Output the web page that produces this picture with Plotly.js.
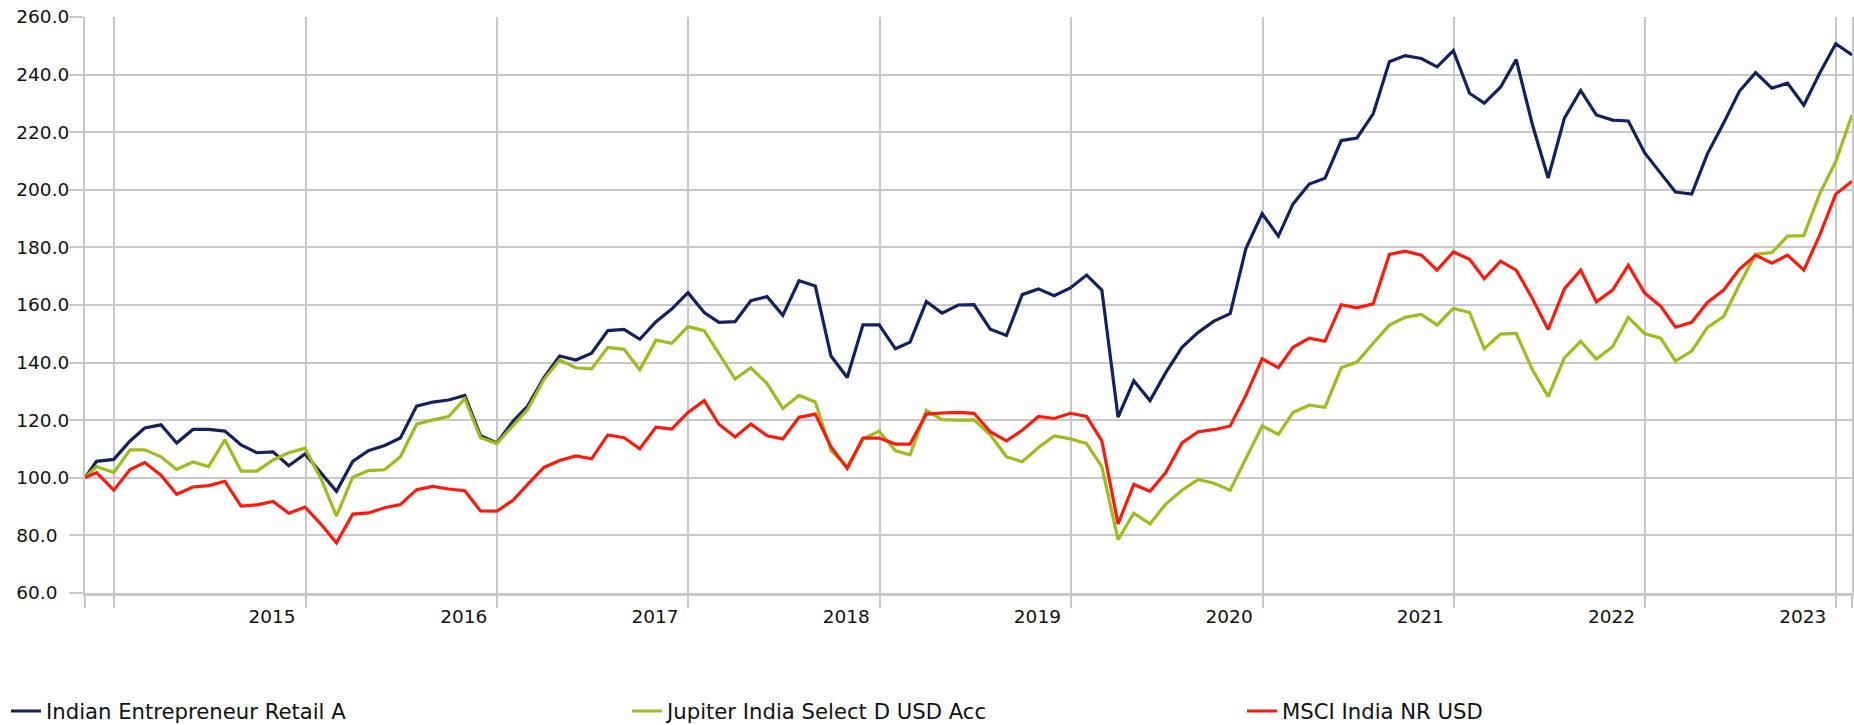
<!DOCTYPE html>
<html>
<head>
<meta charset="utf-8">
<script src="https://cdn.plot.ly/plotly-3.0.1.min.js"></script>
<style>html,body{margin:0;padding:0;background:#fff;}#chart{width:1854px;height:725px;}</style>
</head>
<body>
<div id="chart"></div>
<script>
// Dates (month-end observations)
const dates = [
  "2014-11-06","2014-11-28","2014-12-31",
  "2015-01-31","2015-02-28","2015-03-31","2015-04-30","2015-05-31","2015-06-30","2015-07-31","2015-08-31","2015-09-30","2015-10-31","2015-11-30","2015-12-31",
  "2016-01-31","2016-02-29","2016-03-31","2016-04-30","2016-05-31","2016-06-30","2016-07-31","2016-08-31","2016-09-30","2016-10-31","2016-11-30","2016-12-31",
  "2017-01-31","2017-02-28","2017-03-31","2017-04-30","2017-05-31","2017-06-30","2017-07-31","2017-08-31","2017-09-30","2017-10-31","2017-11-30","2017-12-31",
  "2018-01-31","2018-02-28","2018-03-31","2018-04-30","2018-05-31","2018-06-30","2018-07-31","2018-08-31","2018-09-30","2018-10-31","2018-11-30","2018-12-31",
  "2019-01-31","2019-02-28","2019-03-31","2019-04-30","2019-05-31","2019-06-30","2019-07-31","2019-08-31","2019-09-30","2019-10-31","2019-11-30","2019-12-31",
  "2020-01-31","2020-02-29","2020-03-31","2020-04-30","2020-05-31","2020-06-30","2020-07-31","2020-08-31","2020-09-30","2020-10-31","2020-11-30","2020-12-31",
  "2021-01-31","2021-02-28","2021-03-31","2021-04-30","2021-05-31","2021-06-30","2021-07-31","2021-08-31","2021-09-30","2021-10-31","2021-11-30","2021-12-31",
  "2022-01-31","2022-02-28","2022-03-31","2022-04-30","2022-05-31","2022-06-30","2022-07-31","2022-08-31","2022-09-30","2022-10-31","2022-11-30","2022-12-31",
  "2023-01-31","2023-02-28","2023-03-31","2023-04-30","2023-05-31","2023-06-30","2023-07-31","2023-08-31","2023-09-30","2023-10-31","2023-11-30","2023-12-31",
  "2024-01-31"
];

const indianEntrepreneur = [
  100.0, 105.7, 106.4,
  112.8, 117.3, 118.4, 112.1, 116.8, 116.8, 116.2, 111.4, 108.7, 109.0, 104.2, 108.3,
  101.5, 95.3, 105.7, 109.4, 111.2, 113.8, 124.9, 126.3, 127.0, 128.6, 114.6, 112.1,
  119.6, 124.9, 134.8, 142.3, 140.9, 143.3, 151.1, 151.5, 148.1, 154.2, 158.6, 164.3,
  157.4, 154.0, 154.2, 161.5, 162.9, 156.4, 168.4, 166.6, 142.3, 134.8, 153.1, 153.1,
  144.8, 147.1, 161.2, 157.2, 160.0, 160.1, 151.6, 149.4, 163.6, 165.6, 163.2, 165.9,
  170.4, 165.2, 121.1, 133.7, 126.8, 136.5, 145.3, 150.5, 154.4, 157.0, 179.6, 191.7,
  183.9, 195.1, 202.0, 204.0, 217.1, 218.0, 226.4, 244.5, 246.6, 245.6, 242.7, 248.3,
  233.5, 230.1, 235.6, 245.2, 222.6, 204.1, 224.9, 234.5, 226.0, 224.2, 223.9, 212.9,
  205.7, 199.2, 198.5, 212.5, 223.2, 234.2, 240.7, 235.3, 237.0, 229.4, 240.4, 250.7,
  246.8
];

const jupiterIndia = [
  100.0, 103.9, 101.8,
  109.7, 109.7, 107.3, 102.9, 105.5, 103.9, 113.2, 102.3, 102.3, 106.2, 108.7, 110.3,
  99.5, 86.7, 100.2, 102.5, 102.8, 107.3, 118.6, 120.1, 121.3, 127.5, 113.9, 111.9,
  118.3, 123.8, 134.1, 140.9, 138.2, 137.8, 145.3, 144.6, 137.5, 147.8, 146.7, 152.5,
  151.1, 143.0, 134.3, 138.2, 132.7, 124.1, 128.6, 126.3, 109.4, 103.9, 113.5, 116.2,
  109.4, 108.0, 123.4, 120.2, 120.0, 120.1, 114.9, 107.3, 105.6, 110.5, 114.5, 113.5,
  111.9, 103.9, 78.5, 87.7, 84.0, 90.9, 95.7, 99.4, 98.1, 95.7, 106.4, 118.0,
  115.1, 122.7, 125.2, 124.5, 138.2, 140.2, 146.7, 153.0, 155.7, 156.7, 153.0, 158.8,
  157.4, 144.8, 149.9, 150.1, 137.5, 128.2, 141.6, 147.4, 141.2, 145.5, 155.7, 150.1,
  148.5, 140.5, 144.0, 152.2, 156.0, 167.0, 177.6, 178.2, 183.9, 184.1, 198.5, 209.8,
  226.0
];

const msciIndia = [
  100.0, 101.8, 95.7,
  102.9, 105.3, 100.9, 94.3, 96.8, 97.3, 98.8, 90.2, 90.6, 91.8, 87.7, 89.8,
  83.8, 77.4, 87.4, 87.8, 89.6, 90.7, 95.9, 97.0, 96.1, 95.5, 88.5, 88.4,
  92.2, 97.7, 103.6, 106.0, 107.6, 106.6, 114.9, 113.9, 110.1, 117.6, 116.9, 122.7,
  126.8, 118.6, 114.2, 118.7, 114.6, 113.5, 121.0, 122.1, 110.8, 103.2, 113.8, 113.8,
  111.7, 111.7, 122.1, 122.5, 122.7, 122.4, 116.0, 112.8, 116.5, 121.3, 120.6, 122.4,
  121.3, 112.8, 84.0, 97.7, 95.3, 101.8, 112.1, 116.0, 116.7, 118.0, 128.6, 141.3,
  138.2, 145.3, 148.5, 147.4, 160.1, 159.0, 160.4, 177.6, 178.7, 177.3, 172.1, 178.4,
  175.9, 169.1, 175.2, 172.1, 162.2, 151.5, 165.6, 172.1, 161.1, 165.2, 173.8, 164.2,
  159.5, 152.3, 154.0, 160.9, 165.2, 172.4, 177.3, 174.5, 177.3, 172.1, 184.1, 198.5,
  203.0
];

const seriesNames = ["Indian Entrepreneur Retail A", "Jupiter India Select D USD Acc", "MSCI India NR USD"];
const seriesColors = ["#13225f", "#9fbc1c", "#fb1a0c"];
const legendIds = ["legend", "legend2", "legend3"];

// Axis ticks
const yTickVals = [60, 80, 100, 120, 140, 160, 180, 200, 220, 240, 260];
const yTickText = ["60.0\u2007", "80.0\u2007", "100.0", "120.0", "140.0", "160.0", "180.0", "200.0", "220.0", "240.0", "260.0"];
const yearLabels = ["2015", "2016", "2017", "2018", "2019", "2020", "2021", "2022", "2023"];
const yearLabelDates = ["2015-10-29", "2016-10-29", "2017-10-29", "2018-10-29", "2019-10-29", "2020-10-29", "2021-10-29", "2022-10-29", "2023-10-29"];
const yearGridDates = ["2014-11-06", "2015-01-01", "2016-01-01", "2017-01-01", "2018-01-01", "2019-01-01", "2020-01-01", "2021-01-01", "2022-01-01", "2023-01-01", "2024-01-01", "2024-01-31"];

const allSeries = [indianEntrepreneur, jupiterIndia, msciIndia];
const traces = allSeries.map((vals, i) => ({
  type: "scatter",
  mode: "lines",
  x: dates,
  y: vals,
  name: seriesNames[i],
  legend: legendIds[i],
  line: { color: seriesColors[i], width: 3.2 },
  hoverinfo: "skip"
}));

const grid = "#c8c8c8";
const font = "DejaVu Sans, Verdana, sans-serif";

function legendAt(px) {
  return {
    orientation: "h",
    xref: "container",
    yref: "container",
    x: px / 1854,
    y: 0.019,
    xanchor: "left",
    yanchor: "middle",
    font: { family: font, size: 21.2, color: "#111111" },
    bgcolor: "rgba(0,0,0,0)"
  };
}

const layout = {
  width: 1854,
  height: 725,
  margin: { l: 85, r: 2, t: 17, b: 132 },
  paper_bgcolor: "#ffffff",
  plot_bgcolor: "#ffffff",
  showlegend: true,
  xaxis: {
    type: "date",
    range: [dates[0], dates[dates.length - 1]],
    tickmode: "array",
    tickvals: yearLabelDates,
    ticktext: yearLabels,
    showgrid: false,
    ticks: "outside",
    ticklen: 5,
    tickcolor: "rgba(0,0,0,0)",
    tickfont: { family: font, size: 18.5, color: "#111111" },
    showline: true,
    linecolor: grid,
    linewidth: 3,
    zeroline: false,
    minor: {
      tickmode: "array",
      tickvals: yearGridDates,
      showgrid: true,
      gridcolor: grid,
      gridwidth: 2,
      ticks: "outside",
      ticklen: 12,
      tickcolor: grid,
      tickwidth: 2
    }
  },
  yaxis: {
    range: [60, 260],
    tickmode: "array",
    tickvals: yTickVals,
    ticktext: yTickText,
    showgrid: true,
    gridcolor: grid,
    gridwidth: 2,
    ticks: "outside",
    ticklen: 14,
    tickwidth: 2,
    tickcolor: grid,
    ticklabelstandoff: -4,
    showline: true,
    linecolor: grid,
    linewidth: 2,
    mirror: true,
    zeroline: false,
    tickfont: { family: font, size: 18.5, color: "#111111" }
  },
  legend: legendAt(6),
  legend2: legendAt(627),
  legend3: legendAt(1242)
};

Plotly.newPlot("chart", traces, layout, { displayModeBar: false, staticPlot: true });
</script>
</body>
</html>
